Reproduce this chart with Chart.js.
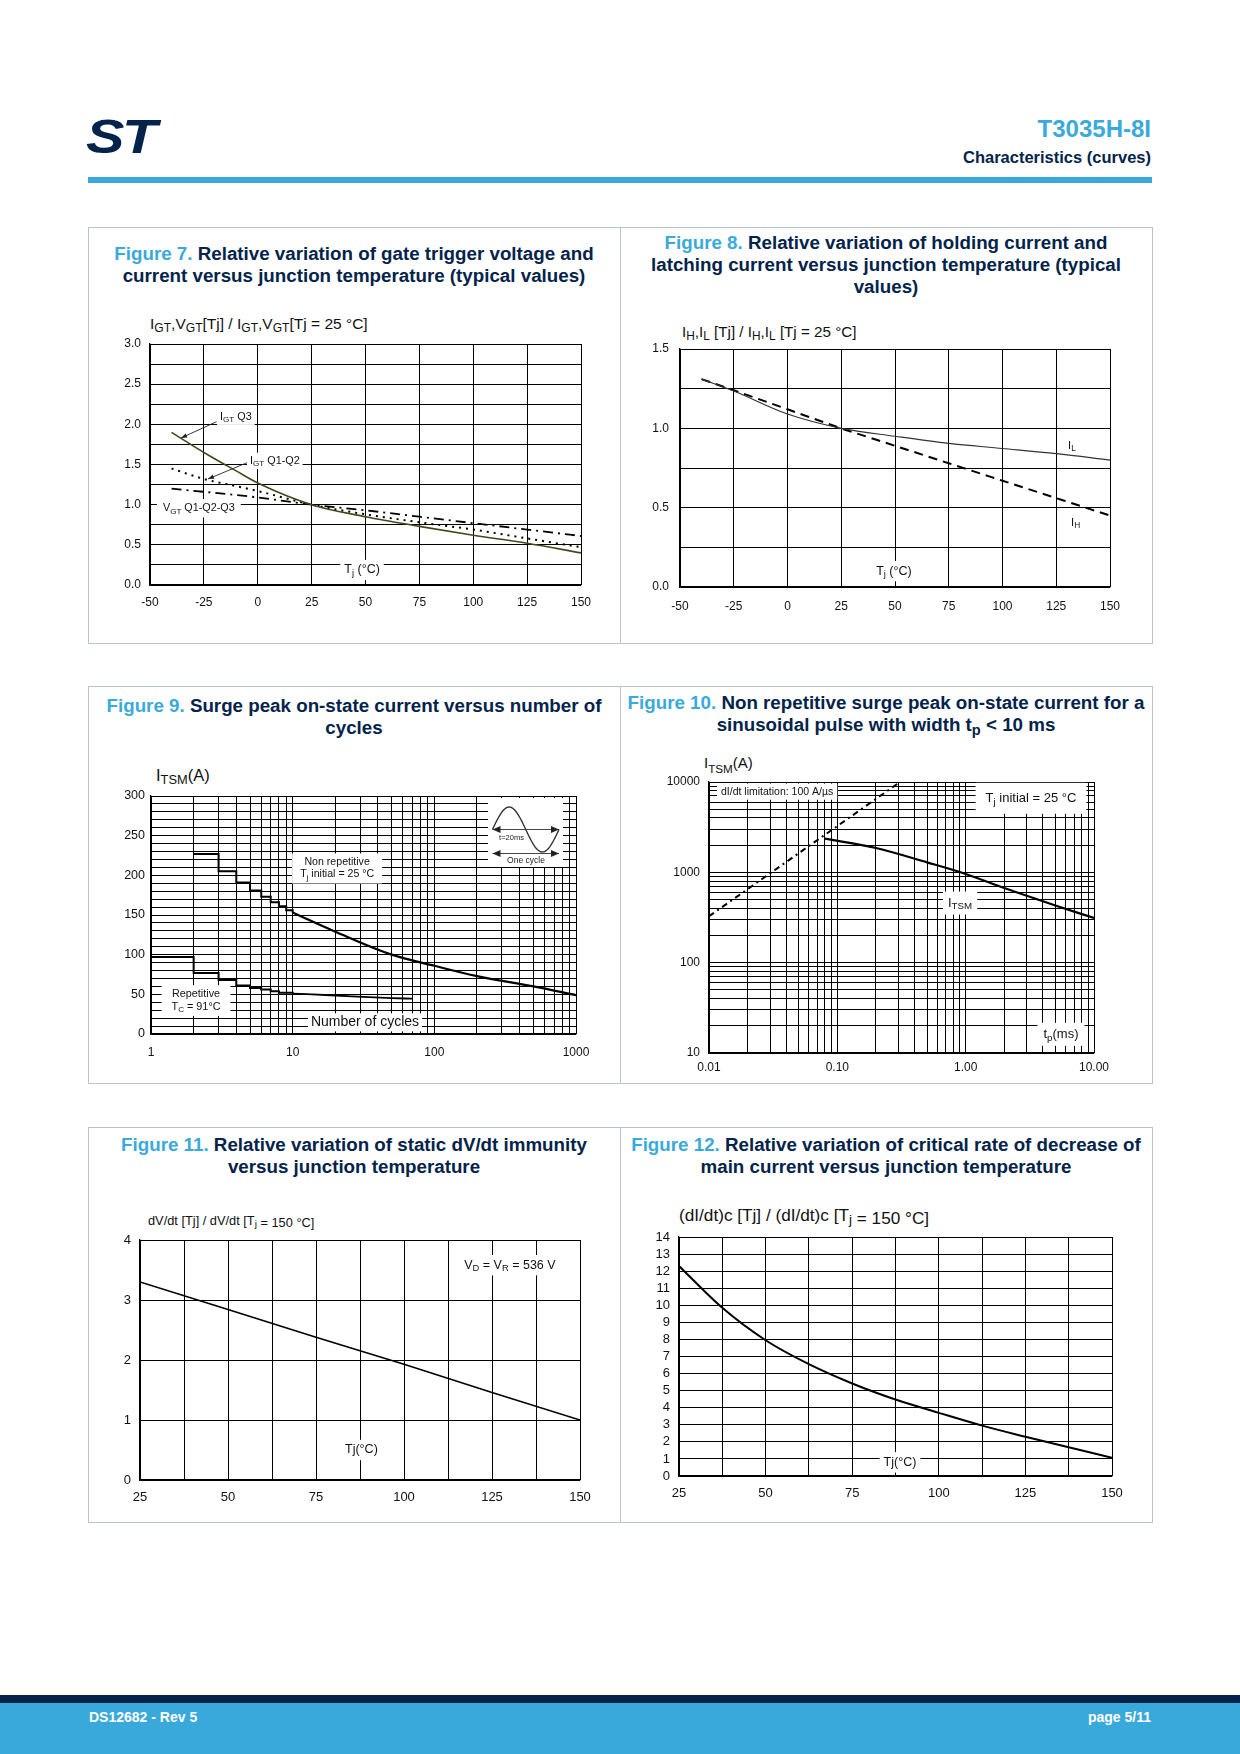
<!DOCTYPE html>
<html>
<head>
<meta charset="utf-8">
<title>T3035H-8I - Characteristics (curves)</title>
<script src="https://cdn.jsdelivr.net/npm/chart.js@4.4.1/dist/chart.umd.min.js"></script>
<style>
  body { margin: 0; background: #fff; font-family: "Liberation Sans", Arial, sans-serif; }
  #page { position: relative; width: 1240px; height: 1754px; overflow: hidden; }
  .abs { position: absolute; white-space: nowrap; }
  .row { position: absolute; left: 88px; width: 1063px; border: 1px solid #b9c3cb; }
  .divider { position: absolute; left: 620px; width: 1px; background: #b9c3cb; }
  .title { position: absolute; width: 532px; text-align: center; font-size: 18.75px; font-weight: bold;
           line-height: 22px; color: #03234b; white-space: nowrap; }
  .title .fig { color: #3aa9dc; }
  .ytitle { position: absolute; white-space: nowrap; color: #111; line-height: 1; }
  sub { font-size: 0.78em; vertical-align: -0.25em; line-height: 0; }
  .low { vertical-align: -0.15em; line-height: 0; }
  canvas { position: absolute; }
</style>
</head>
<body>
<div id="page">
  <!-- header -->
  <div class="abs" style="left:86px;top:113px;font-size:48px;line-height:48px;font-weight:bold;font-style:italic;color:#03234b;letter-spacing:-2px;transform:scaleX(1.2);transform-origin:left top;">ST</div>
  <div class="abs" style="right:89px;top:117px;font-size:24px;line-height:24px;font-weight:bold;color:#3aa9dc;">T3035H-8I</div>
  <div class="abs" style="right:89px;top:149px;font-size:16.5px;line-height:16px;font-weight:bold;color:#03234b;">Characteristics (curves)</div>
  <div class="abs" style="left:88px;top:177px;width:1064px;height:6px;background:#39a9dc;"></div>

  <!-- panel frames -->
  <div class="row" style="top:227px;height:415px;"></div>
  <div class="divider" style="top:227px;height:417px;"></div>
  <div class="row" style="top:686px;height:396px;"></div>
  <div class="divider" style="top:686px;height:398px;"></div>
  <div class="row" style="top:1127px;height:394px;"></div>
  <div class="divider" style="top:1127px;height:396px;"></div>

  <!-- panel titles -->
  <div class="title" style="left:88px;top:243px;"><span class="fig">Figure 7.</span> Relative variation of gate trigger voltage and<br>current versus junction temperature (typical values)</div>
  <div class="title" style="left:620px;top:232px;"><span class="fig">Figure 8.</span> Relative variation of holding current and<br>latching current versus junction temperature (typical<br>values)</div>
  <div class="title" style="left:88px;top:695px;"><span class="fig">Figure 9.</span> Surge peak on-state current versus number of<br>cycles</div>
  <div class="title" style="left:620px;top:692px;"><span class="fig">Figure 10.</span> Non repetitive surge peak on-state current for a<br>sinusoidal pulse with width t<sub>p</sub> &lt; 10 ms</div>
  <div class="title" style="left:88px;top:1134px;"><span class="fig">Figure 11.</span> Relative variation of static dV/dt immunity<br>versus junction temperature</div>
  <div class="title" style="left:620px;top:1134px;"><span class="fig">Figure 12.</span> Relative variation of critical rate of decrease of<br>main current versus junction temperature</div>

  <!-- y axis titles -->
  <div class="ytitle" style="left:150px;top:316px;font-size:15.5px;">I<sub>GT</sub>,V<sub>GT</sub>[Tj] / I<sub>GT</sub>,V<sub>GT</sub>[Tj = 25 °C]</div>
  <div class="ytitle" style="left:682px;top:324px;font-size:15.2px;">I<sub>H</sub>,I<sub>L</sub> [Tj] / I<sub>H</sub>,I<sub>L</sub> [Tj = 25 °C]</div>
  <div class="ytitle" style="left:156px;top:767px;font-size:16.5px;">I<sub>TSM</sub>(A)</div>
  <div class="ytitle" style="left:704px;top:755px;font-size:15px;">I<sub style="vertical-align:-0.45em">TSM</sub>(A)</div>
  <div class="ytitle" style="left:148px;top:1215px;font-size:12.8px;">dV/dt [Tj] / dV/dt [T<sub>j</sub><span class="low"> = 150 °C]</span></div>
  <div class="ytitle" style="left:679px;top:1207px;font-size:17.2px;">(dI/dt)c [Tj] / (dI/dt)c [T<sub>j</sub><span class="low"> = 150 °C]</span></div>

  <!-- footer -->
  <div class="abs" style="left:0;top:1695px;width:1240px;height:8px;background:#03234b;"></div>
  <div class="abs" style="left:0;top:1703px;width:1240px;height:51px;background:#39a9dc;"></div>
  <div class="abs" style="left:89px;top:1710px;font-size:14px;line-height:14px;font-weight:bold;color:#fff;">DS12682 - Rev 5</div>
  <div class="abs" style="right:89px;top:1710px;font-size:14px;line-height:14px;font-weight:bold;color:#fff;">page 5/11</div>
</div>

<script>
// ---- Figure 7: gate trigger current / voltage vs Tj
const fig7Temp = [-40, -25, -10, 0, 25, 50, 75, 100, 125, 150];
const fig7IgtQ3 = [1.90, 1.65, 1.42, 1.27, 1.00, 0.85, 0.73, 0.62, 0.52, 0.40];
const fig7IgtQ1Q2 = [1.45, 1.32, 1.23, 1.17, 1.00, 0.88, 0.78, 0.69, 0.58, 0.47];
const fig7Vgt = [1.20, 1.16, 1.12, 1.09, 1.00, 0.93, 0.85, 0.77, 0.69, 0.61];

// ---- Figure 8: holding / latching current vs Tj
const fig8Temp = [-40, -25, 0, 25, 50, 75, 100, 125, 150];
const fig8IL = [1.31, 1.235, 1.09, 1.00, 0.95, 0.905, 0.873, 0.84, 0.80];
const fig8IH = [1.31, 1.24, 1.12, 1.00, 0.89, 0.78, 0.67, 0.56, 0.45];

// ---- Figure 9: surge current vs number of cycles
const fig9StepCycles = [2, 3, 4, 5, 6, 7, 8, 9, 10];
const fig9StepNonRep = [227, 205, 191, 181, 173, 166, 161, 156, 153];
const fig9CurveCycles = [10, 20, 50, 100, 200, 500, 1000];
const fig9CurveNonRep = [153, 129, 100, 86, 73, 60, 49];
const fig9RepStepCycles = [1, 2, 3, 4, 5, 6, 7, 8, 10];
const fig9RepStep = [97, 77, 68, 61, 58, 56, 54, 52, 51];
const fig9RepCurveCycles = [10, 20, 50, 70];
const fig9RepCurve = [51, 48.5, 45.3, 44.5];

// ---- Figure 10: ITSM vs pulse width
const fig10DidtTp = [0.01, 0.3];
const fig10DidtI = [326, 9750];
const fig10Tp = [0.08, 0.2, 0.5, 1, 2, 5, 10];
const fig10Itsm = [2360, 1860, 1290, 960, 670, 430, 312];

// ---- Figure 11: dV/dt vs Tj
const fig11Temp = [25, 50, 75, 100, 125, 150];
const fig11Ratio = [3.30, 2.84, 2.38, 1.93, 1.46, 1.00];

// ---- Figure 12: (dI/dt)c vs Tj
const fig12Temp = [25, 37.5, 50, 62.5, 75, 87.5, 100, 112.5, 125, 137.5, 150];
const fig12Ratio = [12.3, 9.85, 7.95, 6.55, 5.42, 4.48, 3.7, 2.95, 2.3, 1.68, 1.07];

// tick values that carry a label on the log axes
const fig9XTickLabels = [1, 10, 100, 1000];
const fig10XTickLabels = [0.01, 0.1, 1, 10];
const fig10YTickLabels = [10, 100, 1000, 10000];

const page = document.getElementById('page');
Chart.defaults.font.family = '"Liberation Sans", Arial, sans-serif';
Chart.defaults.color = '#111';

const YW = 60, PT = 24, PR = 28, XH = 36;
const FONT = '"Liberation Sans", Arial, sans-serif';

const pts = (xs, ys) => xs.map((x, i) => ({ x, y: ys[i] }));

function decadeTicks(lo, hi) {
  const v = [];
  for (let e = lo; e < hi; e++) {
    for (let m = 1; m < 10; m++) v.push(+(m * Math.pow(10, e)).toPrecision(6));
  }
  v.push(Math.pow(10, hi));
  return v;
}

function isIn(list, v) {
  return list.some(t => Math.abs(t - v) / t < 1e-6);
}

// --- small rich text helpers: "I_{GT} Q3" -> I + subscript GT + " Q3"
function richSegments(str) {
  const segs = [];
  const re = /_\{([^}]*)\}/g;
  let last = 0, m;
  while ((m = re.exec(str))) {
    if (m.index > last) segs.push({ t: str.slice(last, m.index), sub: false });
    segs.push({ t: m[1], sub: true });
    last = re.lastIndex;
  }
  if (last < str.length) segs.push({ t: str.slice(last), sub: false });
  return segs;
}

function richWidth(ctx, segs, size) {
  let w = 0;
  segs.forEach(s => {
    ctx.font = (s.sub ? size * 0.75 : size) + 'px ' + FONT;
    w += ctx.measureText(s.t).width;
  });
  return w;
}

function richDraw(ctx, segs, x, y, size) {
  segs.forEach(s => {
    ctx.font = (s.sub ? size * 0.75 : size) + 'px ' + FONT;
    ctx.fillText(s.t, x, s.sub ? y + size * 0.28 : y);
    x += ctx.measureText(s.t).width;
  });
}

function drawNote(chart, n) {
  const ctx = chart.ctx;
  const px = chart.scales.x.getPixelForValue(n.x);
  const py = chart.scales.y.getPixelForValue(n.y);
  const lh = n.lh || n.size * 1.15;
  const lines = n.text.split('\n').map(richSegments);
  const widths = lines.map(l => richWidth(ctx, l, n.size));
  const maxW = Math.max(...widths);
  const blockH = lh * lines.length;
  const left = n.align === 'left' ? px : px - maxW / 2;
  ctx.save();
  if (n.box) {
    ctx.fillStyle = '#fff';
    ctx.fillRect(left - n.box[0], py - blockH / 2 - n.box[1], maxW + 2 * n.box[0], blockH + 2 * n.box[1]);
  }
  ctx.fillStyle = '#111';
  ctx.textBaseline = 'middle';
  ctx.textAlign = 'left';
  lines.forEach((l, i) => {
    const lx = n.align === 'left' ? left : px - widths[i] / 2;
    richDraw(ctx, l, lx, py - blockH / 2 + lh * (i + 0.5), n.size);
  });
  ctx.restore();
}

function arrowHead(ctx, x1, y1, x2, y2, len, half) {
  const a = Math.atan2(y2 - y1, x2 - x1);
  const bx = x2 - len * Math.cos(a), by = y2 - len * Math.sin(a);
  ctx.beginPath();
  ctx.moveTo(x2, y2);
  ctx.lineTo(bx + half * Math.sin(a), by - half * Math.cos(a));
  ctx.lineTo(bx - half * Math.sin(a), by + half * Math.cos(a));
  ctx.closePath();
  ctx.fill();
}

function notesPlugin(notes, arrows, extra) {
  return {
    id: 'notes',
    beforeDatasetsDraw(chart) {
      notes.forEach(n => drawNote(chart, n));
      if (extra) extra(chart);
    },
    afterDatasetsDraw(chart) {
      const ctx = chart.ctx;
      ctx.save();
      ctx.strokeStyle = '#222';
      ctx.fillStyle = '#222';
      ctx.lineWidth = 0.9;
      arrows.forEach(a => {
        const x1 = chart.scales.x.getPixelForValue(a.from[0]), y1 = chart.scales.y.getPixelForValue(a.from[1]);
        const x2 = chart.scales.x.getPixelForValue(a.to[0]), y2 = chart.scales.y.getPixelForValue(a.to[1]);
        ctx.beginPath();
        ctx.moveTo(x1, y1);
        ctx.lineTo(x2, y2);
        ctx.stroke();
        arrowHead(ctx, x1, y1, x2, y2, 6, 2.2);
      });
      ctx.restore();
    }
  };
}

// little sine-wave sketch in the corner of figure 9
function drawSineInset(chart) {
  const ctx = chart.ctx, a = chart.chartArea;
  const x0 = a.right - 83.5, x1 = a.right - 17, yc = a.top + 33.5, amp = 22.5;
  ctx.save();
  ctx.fillStyle = '#fff';
  ctx.fillRect(a.right - 88, a.top + 2, 75, 69);
  ctx.strokeStyle = '#333';
  ctx.lineWidth = 1.4;
  ctx.beginPath();
  for (let i = 0; i <= 80; i++) {
    const t = i / 80;
    const x = x0 + t * (x1 - x0), y = yc - amp * Math.sin(2 * Math.PI * t);
    if (i === 0) ctx.moveTo(x, y); else ctx.lineTo(x, y);
  }
  ctx.stroke();
  ctx.fillStyle = '#222';
  ctx.lineWidth = 0.9;
  [yc, a.top + 57.5].forEach(y => {
    ctx.beginPath();
    ctx.moveTo(x0, y);
    ctx.lineTo(x1, y);
    ctx.stroke();
    arrowHead(ctx, x1, y, x0, y, 8, 3.5);
    arrowHead(ctx, x0, y, x1, y, 8, 3.5);
  });
  ctx.textBaseline = 'middle';
  ctx.textAlign = 'center';
  ctx.font = '7.5px ' + FONT;
  ctx.fillStyle = '#fff';
  ctx.fillRect(a.right - 78, yc + 4, 27, 9);
  ctx.fillStyle = '#222';
  ctx.fillText('t=20ms', a.right - 64.5, yc + 8.5);
  ctx.font = '8.5px ' + FONT;
  ctx.fillStyle = '#fff';
  ctx.fillRect(a.right - 70, a.top + 60, 40, 10);
  ctx.fillStyle = '#222';
  ctx.fillText('One cycle', a.right - 50, a.top + 64.5);
  ctx.restore();
}

function axis(o) {
  const s = {
    type: o.type || 'linear',
    min: o.min,
    max: o.max,
    grid: { color: '#000', lineWidth: 1, drawTicks: false },
    border: { color: '#000', width: 1.3 },
    ticks: {
      color: '#111',
      font: { size: o.size },
      padding: o.pad,
      autoSkip: false,
      maxRotation: 0,
      maxTicksLimit: 200,
      callback: o.label
    },
    afterFit: o.isX ? (sc => { sc.height = XH; }) : (sc => { sc.width = YW; })
  };
  if (o.values) {
    s.afterBuildTicks = sc => { sc.ticks = o.values.map(v => ({ value: v })); };
  } else {
    s.ticks.stepSize = o.step;
  }
  return s;
}

function makeChart(rect, xScale, yScale, datasets, plugin) {
  const cv = document.createElement('canvas');
  const w = rect.R - rect.L + YW + PR, h = rect.B - rect.T + PT + XH;
  cv.width = w;
  cv.height = h;
  cv.style.left = (rect.L - YW) + 'px';
  cv.style.top = (rect.T - PT) + 'px';
  cv.style.width = w + 'px';
  cv.style.height = h + 'px';
  page.appendChild(cv);
  return new Chart(cv, {
    type: 'line',
    data: { datasets },
    options: {
      responsive: false,
      animation: false,
      devicePixelRatio: 1,
      layout: { padding: { left: 0, top: PT, right: PR, bottom: 0 } },
      elements: { point: { radius: 0 }, line: { fill: false } },
      plugins: { legend: { display: false }, tooltip: { enabled: false } },
      scales: { x: xScale, y: yScale }
    },
    plugins: [plugin]
  });
}

function line(xs, ys, style) {
  return Object.assign({ data: pts(xs, ys), borderColor: '#000', borderWidth: 1.5, tension: 0 }, style);
}

const halfLabel = v => (Math.abs(v * 2 - Math.round(v * 2)) < 1e-6 ? v.toFixed(1) : '');
const every25 = v => (Math.abs(v % 25) < 1e-6 ? String(v) : '');

// Figure 7
makeChart({ L: 150, T: 344, R: 581, B: 585 },
  axis({ isX: true, min: -50, max: 150, step: 25, size: 12, pad: 10, label: v => String(v) }),
  axis({ min: 0, max: 3, step: 0.25, size: 12, pad: 9, label: halfLabel }),
  [
    line(fig7Temp, fig7IgtQ3, { borderColor: '#46461c', borderWidth: 1.6, cubicInterpolationMode: 'monotone' }),
    line(fig7Temp, fig7IgtQ1Q2, { borderWidth: 2, borderDash: [2, 5], cubicInterpolationMode: 'monotone' }),
    line(fig7Temp, fig7Vgt, { borderWidth: 1.8, borderDash: [10, 5, 2, 5], cubicInterpolationMode: 'monotone' })
  ],
  notesPlugin([
    { x: -17.5, y: 2.095, text: 'I_{GT} Q3', size: 10.8, align: 'left', box: [3, 2] },
    { x: -3.6, y: 1.545, text: 'I_{GT} Q1-Q2', size: 10.8, align: 'left', box: [3, 2] },
    { x: -44, y: 0.955, text: 'V_{GT} Q1-Q2-Q3', size: 10.8, align: 'left', box: [6, 3] },
    { x: 48.4, y: 0.187, text: 'T_{j} (°C)', size: 12.5, align: 'center', box: [4, 3] }
  ], [
    { from: [-19.1, 2.033], to: [-35.6, 1.83] },
    { from: [-5, 1.522], to: [-23.1, 1.32] }
  ]));

// Figure 8
makeChart({ L: 680, T: 349, R: 1110, B: 587 },
  axis({ isX: true, min: -50, max: 150, step: 25, size: 12, pad: 12, label: v => String(v) }),
  axis({ min: 0, max: 1.5, step: 0.25, size: 12, pad: 11, label: halfLabel }),
  [
    line(fig8Temp, fig8IL, { borderColor: '#333', borderWidth: 1.2, cubicInterpolationMode: 'monotone' }),
    line(fig8Temp, fig8IH, { borderWidth: 2, borderDash: [9, 6], cubicInterpolationMode: 'monotone' })
  ],
  notesPlugin([
    { x: 130.5, y: 0.89, text: 'I_{L}', size: 11, align: 'left' },
    { x: 131.9, y: 0.405, text: 'I_{H}', size: 11, align: 'left' },
    { x: 49.5, y: 0.10, text: 'T_{j} (°C)', size: 12.5, align: 'center', box: [4, 3] }
  ], []));

// Figure 9
makeChart({ L: 151, T: 796, R: 576, B: 1034 },
  axis({ isX: true, type: 'logarithmic', min: 1, max: 1000, values: decadeTicks(0, 3), size: 12, pad: 11,
         label: v => (isIn(fig9XTickLabels, v) ? String(v) : '') }),
  axis({ min: 0, max: 300, step: 10, size: 12.5, pad: 6, label: v => (v % 50 === 0 ? String(v) : '') }),
  [
    line(fig9StepCycles, fig9StepNonRep, { borderWidth: 2, stepped: 'before' }),
    line(fig9CurveCycles, fig9CurveNonRep, { borderWidth: 2.2, cubicInterpolationMode: 'monotone' }),
    line(fig9RepStepCycles, fig9RepStep, { borderWidth: 2, stepped: 'before' }),
    line(fig9RepCurveCycles, fig9RepCurve, { borderWidth: 1.8, cubicInterpolationMode: 'monotone' })
  ],
  notesPlugin([
    { x: 20.6, y: 208.6, text: 'Non repetitive\nT_{j} initial = 25 °C', size: 10.6, lh: 12, align: 'center', box: [8, 3] },
    { x: 2.08, y: 42.2, text: 'Repetitive\nT_{C} = 91°C', size: 10.8, lh: 12.4, align: 'center', box: [10, 3] },
    { x: 32.4, y: 14.7, text: 'Number of cycles', size: 14, align: 'center', box: [3, 1] }
  ], [], drawSineInset));

// Figure 10
makeChart({ L: 709, T: 782, R: 1094, B: 1053 },
  axis({ isX: true, type: 'logarithmic', min: 0.01, max: 10, values: decadeTicks(-2, 1), size: 12, pad: 7,
         label: v => (isIn(fig10XTickLabels, v) ? v.toFixed(2) : '') }),
  axis({ type: 'logarithmic', min: 10, max: 10000, values: decadeTicks(1, 4), size: 12, pad: 9,
         label: v => (isIn(fig10YTickLabels, v) ? String(Math.round(v)) : '') }),
  [
    line(fig10DidtTp, fig10DidtI, { borderWidth: 2, borderDash: [6, 4, 2, 4] }),
    line(fig10Tp, fig10Itsm, { borderWidth: 2.2, cubicInterpolationMode: 'monotone' })
  ],
  notesPlugin([
    { x: 0.0124, y: 7815, text: 'dI/dt limitation: 100 A/µs', size: 10.5, align: 'left', box: [4, 2] },
    { x: 3.23, y: 6600, text: 'T_{j} initial = 25 °C', size: 13, align: 'center', box: [10, 8] },
    { x: 0.904, y: 457, text: 'I_{TSM}', size: 13, align: 'center', box: [5, 4] },
    { x: 5.53, y: 16.1, text: 't_{p}(ms)', size: 13, align: 'center', box: [6, 4] }
  ], []));

// Figure 11
makeChart({ L: 140, T: 1240, R: 580, B: 1480 },
  axis({ isX: true, min: 25, max: 150, step: 12.5, size: 13, pad: 10, label: every25 }),
  axis({ min: 0, max: 4, step: 1, size: 13, pad: 9, label: v => String(v) }),
  [
    line(fig11Temp, fig11Ratio, { borderWidth: 1.6 })
  ],
  notesPlugin([
    { x: 130.1, y: 3.58, text: 'V_{D} = V_{R} = 536 V', size: 12.5, align: 'center', box: [4, 3] },
    { x: 87.9, y: 0.5, text: 'Tj(°C)', size: 12.5, align: 'center', box: [4, 3] }
  ], []));

// Figure 12
makeChart({ L: 679, T: 1237, R: 1112, B: 1476 },
  axis({ isX: true, min: 25, max: 150, step: 12.5, size: 13, pad: 10, label: every25 }),
  axis({ min: 0, max: 14, step: 1, size: 13, pad: 9, label: v => String(v) }),
  [
    line(fig12Temp, fig12Ratio, { borderWidth: 2, cubicInterpolationMode: 'monotone' })
  ],
  notesPlugin([
    { x: 88.8, y: 0.80, text: 'Tj(°C)', size: 12.5, align: 'center', box: [4, 3] }
  ], []));
</script>
</body>
</html>
